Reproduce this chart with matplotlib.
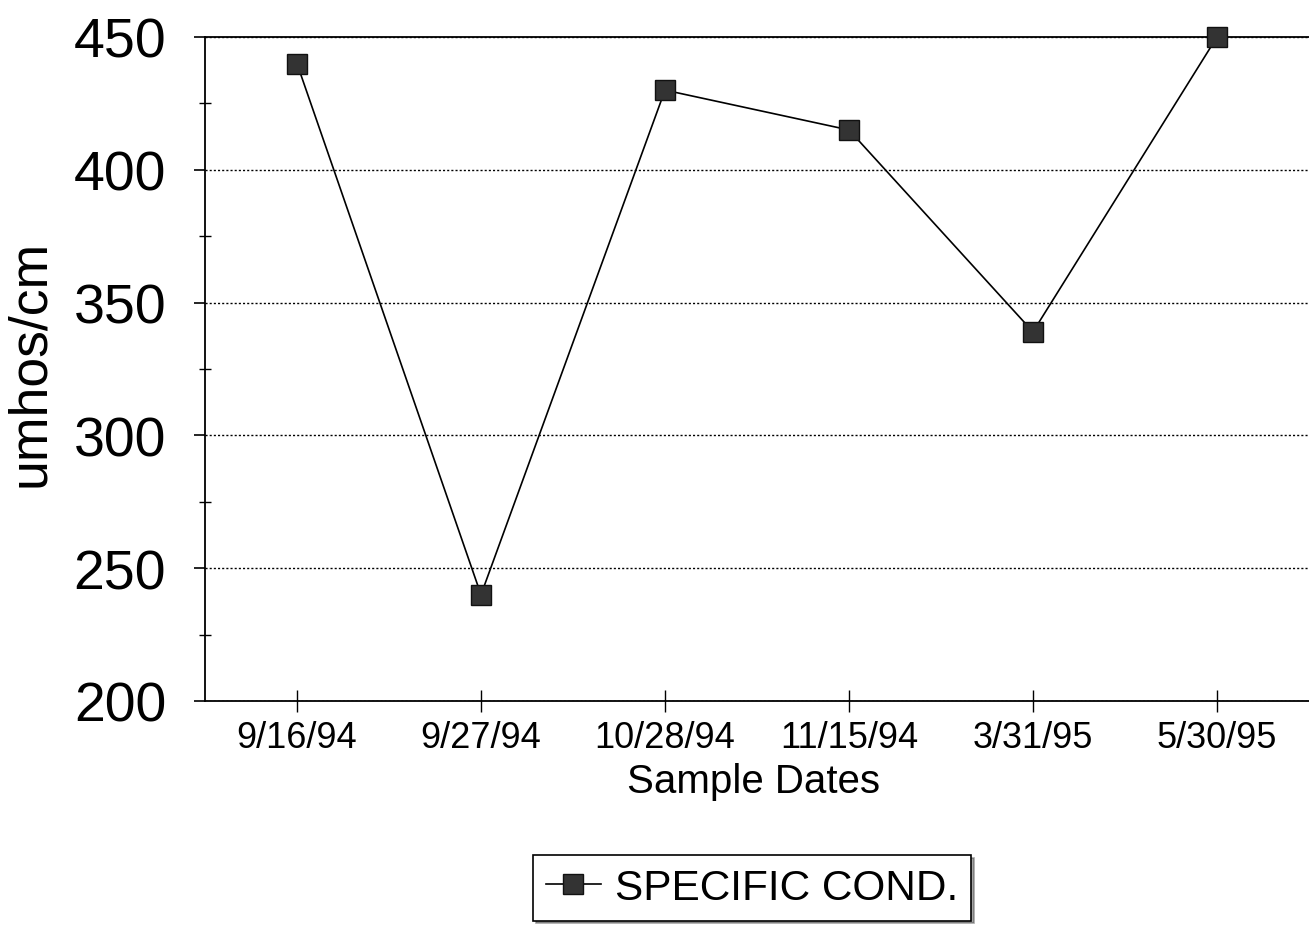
import matplotlib
matplotlib.use("Agg")
from matplotlib import pyplot as plt
from matplotlib.ticker import MultipleLocator

dates = ["9/16/94", "9/27/94", "10/28/94", "11/15/94", "3/31/95", "5/30/95"]
cond = [440, 240, 430, 415, 339, 450]

plt.rcParams['font.family'] = ['Liberation Sans', 'DejaVu Sans']

fig = plt.figure(figsize=(13.09, 9.29), dpi=100)
ax = fig.add_axes([205 / 1309, 1 - 702 / 929, 1 - 205 / 1309, (702 - 38) / 929])

x = list(range(len(dates)))
ax.plot(x, cond, color='black', linewidth=1.2, marker='s', markersize=14,
        markerfacecolor='#333333', markeredgecolor='#111111', label="SPECIFIC COND.",
        clip_on=False, zorder=3)

ax.set_xlim(-0.5, len(dates) - 0.5)
ax.set_ylim(200, 450)
ax.set_xticks(x)
ax.set_xticklabels(dates, fontsize=26)
ax.yaxis.set_major_locator(MultipleLocator(50))
ax.yaxis.set_minor_locator(MultipleLocator(25))
ax.tick_params(axis='y', which='major', direction='out', length=8, width=1.2,
               labelsize=40, pad=20)
ax.tick_params(axis='y', which='minor', direction='inout', length=8, width=1)
ax.tick_params(axis='x', direction='inout', length=16, width=1, pad=6)

ax.grid(axis='y', which='major', linestyle=(0, (1.5, 1.5)), color='black', linewidth=1)

ax.spines['right'].set_visible(False)
for s in ['left', 'bottom', 'top']:
    ax.spines[s].set_linewidth(1.3)

ax.set_xlabel("Sample Dates", fontsize=29)
ax.xaxis.set_label_coords(0.497, -0.092)
ax.set_ylabel("umhos/cm", fontsize=38.5)
ax.yaxis.set_label_coords(-0.136, 0.51)

leg = fig.legend(loc='center', bbox_to_anchor=(752 / 1309, 1 - 889 / 929), fontsize=30.5,
                 frameon=True, fancybox=False, shadow=True, edgecolor='black',
                 handlelength=1.3, handletextpad=0.33, borderpad=0.3, borderaxespad=0)
leg.get_frame().set_linewidth(1.2)

fig.savefig("out.png", dpi=100)
